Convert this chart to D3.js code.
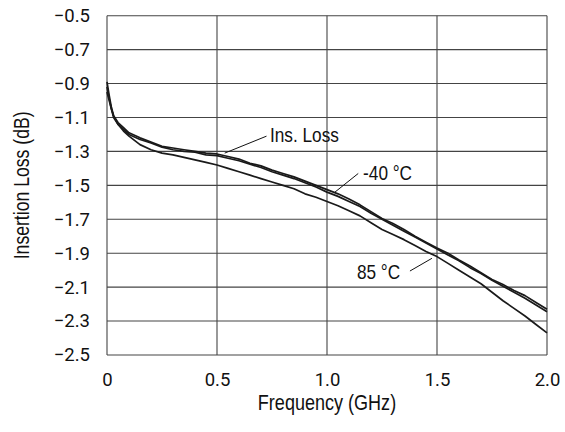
<!DOCTYPE html>
<html>
<head>
<meta charset="utf-8">
<script src="https://cdn.jsdelivr.net/npm/d3@7"></script>
<style>
  body { margin: 0; background: #fff; }
  svg { display: block; }
  .tick text { font-family: Roboto, "Liberation Sans", sans-serif; font-size: 18.5px; fill: #111; }
  .lbl { font-family: "Liberation Sans", Arial, sans-serif; fill: #111; }
</style>
</head>
<body>
<svg id="chart" width="565" height="432"></svg>
<script>
// frequency points (GHz)
const freq = [0, 0.01, 0.02, 0.03, 0.05, 0.075, 0.1, 0.15, 0.2, 0.25, 0.3, 0.35, 0.4, 0.45, 0.5,
  0.55, 0.6, 0.65, 0.7, 0.75, 0.8, 0.85, 0.9, 0.95, 1.0, 1.05, 1.1, 1.15, 1.2, 1.25, 1.3,
  1.35, 1.4, 1.45, 1.5, 1.55, 1.6, 1.65, 1.7, 1.75, 1.8, 1.85, 1.9, 1.95, 2.0];

// insertion loss (dB), room temperature
const insLoss = [-0.89, -0.97, -1.04, -1.09, -1.13, -1.16, -1.19, -1.22, -1.245, -1.27, -1.28, -1.29, -1.30, -1.31, -1.315,
  -1.33, -1.345, -1.37, -1.385, -1.41, -1.43, -1.45, -1.475, -1.50, -1.525, -1.55, -1.58, -1.615, -1.655, -1.695, -1.725,
  -1.76, -1.80, -1.835, -1.87, -1.90, -1.94, -1.975, -2.015, -2.055, -2.085, -2.12, -2.15, -2.19, -2.23];

// -40 °C
const cold = [-0.92, -0.99, -1.05, -1.10, -1.14, -1.17, -1.20, -1.23, -1.25, -1.275, -1.29, -1.30, -1.305, -1.32, -1.325,
  -1.34, -1.355, -1.375, -1.395, -1.42, -1.44, -1.46, -1.485, -1.51, -1.54, -1.565, -1.595, -1.625, -1.665, -1.70, -1.735,
  -1.77, -1.805, -1.84, -1.875, -1.91, -1.945, -1.985, -2.02, -2.06, -2.095, -2.13, -2.165, -2.205, -2.245];

// 85 °C
const hot = [-0.95, -1.00, -1.05, -1.09, -1.14, -1.18, -1.21, -1.26, -1.29, -1.31, -1.32, -1.335, -1.35, -1.365, -1.38,
  -1.40, -1.42, -1.44, -1.46, -1.48, -1.50, -1.52, -1.55, -1.57, -1.595, -1.62, -1.65, -1.68, -1.72, -1.76, -1.79,
  -1.82, -1.855, -1.89, -1.92, -1.96, -2.00, -2.04, -2.08, -2.13, -2.18, -2.225, -2.27, -2.32, -2.37];

const xTicks = [0, 0.5, 1.0, 1.5, 2.0];
const xTickLabels = ["0", "0.5", "1.0", "1.5", "2.0"];
const yTicks = [-0.5, -0.7, -0.9, -1.1, -1.3, -1.5, -1.7, -1.9, -2.1, -2.3, -2.5];

// annotation: text anchor and leader line, in data units
const notes = [
  {text: "Ins. Loss", tx: 0.741, ty: -1.243, x1: 0.535, y1: -1.31, x2: 0.725, y2: -1.21},
  {text: "-40 °C", tx: 1.164, ty: -1.47, x1: 1.036, y1: -1.54, x2: 1.142, y2: -1.43},
  {text: "85 °C", tx: 1.136, ty: -2.05, x1: 1.377, y1: -2.005, x2: 1.477, y2: -1.93}
];

const svg = d3.select("#chart");
const margin = {top: 15.7, right: 18, bottom: 77, left: 107};
const width = 565 - margin.left - margin.right,
      height = 432 - margin.top - margin.bottom;
const narrow = 0.82; // condensed look

const g = svg.append("g").attr("transform", `translate(${margin.left},${margin.top})`);

const x = d3.scaleLinear().domain([0, 2]).range([0, width]);
const y = d3.scaleLinear().domain([-2.5, -0.5]).range([height, 0]);

// grid
g.append("g")
  .selectAll("line")
  .data(yTicks)
  .join("line")
  .attr("x1", 0).attr("x2", width)
  .attr("y1", d => y(d)).attr("y2", d => y(d))
  .attr("stroke", "#444").attr("stroke-width", 1.1);

g.append("g")
  .selectAll("line")
  .data(xTicks)
  .join("line")
  .attr("x1", d => x(d)).attr("x2", d => x(d))
  .attr("y1", 0).attr("y2", height)
  .attr("stroke", "#444").attr("stroke-width", 1.1);

// axes (labels only)
const yAxis = g.append("g")
  .call(d3.axisLeft(y).tickValues(yTicks).tickSize(0).tickPadding(17).tickFormat(d3.format(".1f")));
yAxis.select(".domain").remove();

const xAxis = g.append("g")
  .attr("transform", `translate(0,${height})`)
  .call(d3.axisBottom(x).tickValues(xTicks).tickSize(0).tickPadding(18)
    .tickFormat((d, i) => xTickLabels[i]));
xAxis.select(".domain").remove();

// curves
const line = d3.line()
  .x((d, i) => x(freq[i]))
  .y(d => y(d));

[insLoss, cold, hot].forEach(s => {
  g.append("path")
    .datum(s)
    .attr("d", line)
    .attr("fill", "none")
    .attr("stroke", "#1a1a1a")
    .attr("stroke-width", 1.7)
    .attr("stroke-linejoin", "round");
});

// annotations
notes.forEach(n => {
  g.append("line")
    .attr("x1", x(n.x1)).attr("y1", y(n.y1))
    .attr("x2", x(n.x2)).attr("y2", y(n.y2))
    .attr("stroke", "#111").attr("stroke-width", 1);
  g.append("text")
    .attr("class", "lbl")
    .attr("transform", `translate(${x(n.tx)},${y(n.ty)}) scale(${narrow},1)`)
    .attr("font-size", "21px")
    .text(n.text);
});

// axis titles
svg.append("text")
  .attr("class", "lbl")
  .attr("transform", `translate(${margin.left + width / 2},410) scale(${narrow},1)`)
  .attr("text-anchor", "middle")
  .attr("font-size", "22px")
  .text("Frequency (GHz)");

svg.append("text")
  .attr("class", "lbl")
  .attr("transform", `translate(29,${margin.top + height / 2}) rotate(-90) scale(${narrow},1)`)
  .attr("text-anchor", "middle")
  .attr("font-size", "21.5px")
  .text("Insertion Loss (dB)");
</script>
</body>
</html>
